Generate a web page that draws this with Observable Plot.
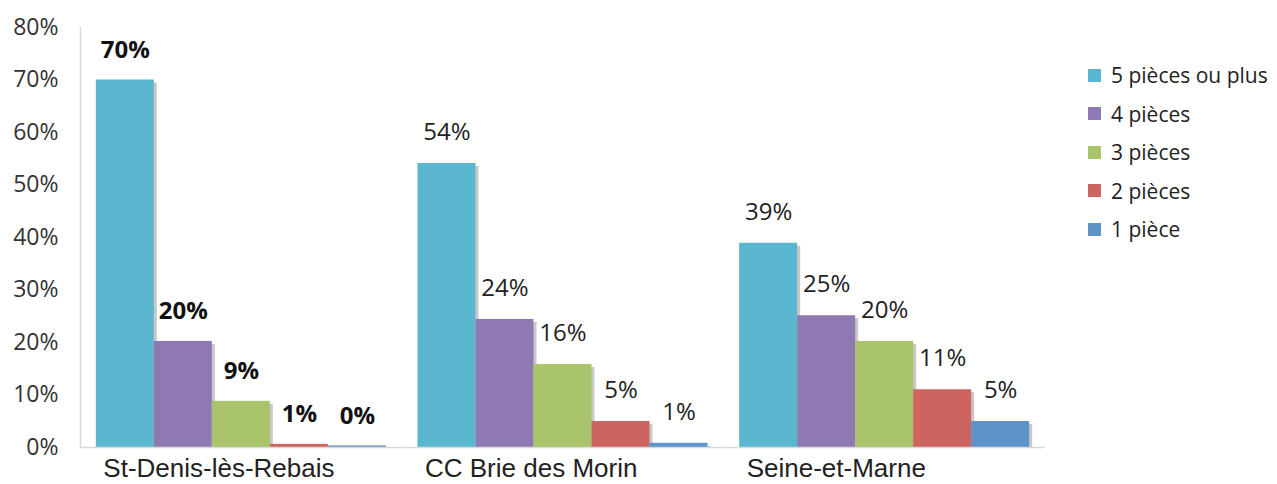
<!DOCTYPE html>
<html><head><meta charset="utf-8">
<script src="https://cdn.jsdelivr.net/npm/d3@7"></script>
<script src="https://cdn.jsdelivr.net/npm/@observablehq/plot@0.6"></script>
<style>
body{margin:0;background:#fff;font-family:"Open Sans",sans-serif;}
#wrap{position:relative;width:1277px;height:484px;}
#legend{position:absolute;left:1088px;top:56px;font-size:21px;color:#222;}
#legend .row{display:flex;align-items:center;height:38.5px;white-space:nowrap;}
#legend .sw{width:13px;height:13px;margin-right:10px;}
</style></head>
<body><div id="wrap"><div id="chart"></div><div id="legend"></div></div>
<script>
const groups = ["St-Denis-lès-Rebais", "CC Brie des Morin", "Seine-et-Marne"];
const types = ["5 pièces ou plus", "4 pièces", "3 pièces", "2 pièces", "1 pièce"];
const colors = ["#5bb7d0", "#8f79b3", "#a9c46b", "#cd6460", "#5e93c9"];
const stDenis = [70, 20.2, 8.8, 0.6, 0.3];
const brie = [54.1, 24.4, 15.8, 4.95, 0.8];
const seine = [38.9, 25.1, 20.2, 11.0, 4.95];
const yTicks = [0, 10, 20, 30, 40, 50, 60, 70, 80];

const series = [stDenis, brie, seine];
const data = [];
groups.forEach((g, gi) => types.forEach((t, ti) => data.push({group: g, type: t, value: series[gi][ti]})));
const fmt = v => Math.round(v) + "%";

const chart = Plot.plot({
  width: 1277, height: 484,
  marginLeft: 80, marginRight: 232, marginTop: 27, marginBottom: 37,
  style: {fontFamily: "'Open Sans', sans-serif", color: "#222", background: "#fff"},
  fx: {domain: groups, padding: 0, round: false, label: null},
  x: {domain: types, paddingInner: 0, paddingOuter: 0.273, round: false, axis: null},
  y: {domain: [0, 80], axis: null},
  color: {domain: types, range: colors},
  marks: [
    Plot.barY(data, {fx: "group", x: "type", y: "value", fill: "#c8c8c8", dx: 3, insetTop: 3, inset: 0}),
    Plot.barY(data, {fx: "group", x: "type", y: "value", fill: "type", inset: 0}),
    Plot.ruleY([0], {stroke: "#d9d9d9", strokeWidth: 1.5}),
    Plot.frame({anchor: "left", stroke: "#d9d9d9", strokeWidth: 1.5, facetAnchor: "left"}),
    Plot.text(data.filter(d => d.group === groups[0]), {fx: "group", x: "type", y: "value", text: d => fmt(d.value), dy: -30, fontSize: 24, fontWeight: "bold", fill: "#111"}),
    Plot.text(data.filter(d => d.group !== groups[0]), {fx: "group", x: "type", y: "value", text: d => fmt(d.value), dy: -31, fontSize: 24, fill: "#222"}),
    Plot.axisY(yTicks, {anchor: "left", tickSize: 0, tickPadding: 22, tickFormat: d => d + "%", fontSize: 23, fill: "#333", label: null}),
    Plot.axisFx({anchor: "bottom", tickSize: 0, tickPadding: 11, fontSize: 26, fontFamily: "'Liberation Sans', Arial, sans-serif", fill: "#222", textAnchor: "start", dx: -138, label: null})
  ]
});
document.getElementById("chart").appendChild(chart);

const legend = document.getElementById("legend");
types.forEach((t, i) => {
  const row = document.createElement("div"); row.className = "row";
  const sw = document.createElement("div"); sw.className = "sw"; sw.style.background = colors[i];
  const lab = document.createElement("span"); lab.textContent = t;
  row.appendChild(sw); row.appendChild(lab); legend.appendChild(row);
});
</script></body></html>
